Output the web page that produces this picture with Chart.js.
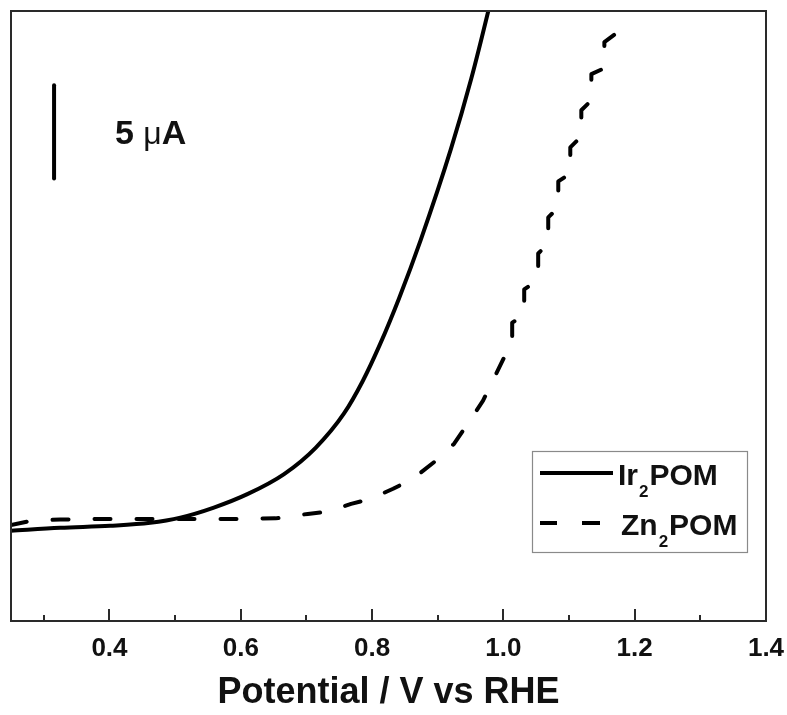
<!DOCTYPE html>
<html>
<head>
<meta charset="utf-8">
<script src="https://cdn.jsdelivr.net/npm/chart.js@4.4.1/dist/chart.umd.min.js"></script>
<style>
  html, body { margin: 0; padding: 0; background: #ffffff; }
  canvas { display: block; }
</style>
</head>
<body>
<canvas id="c" width="787" height="715"></canvas>
<script>
// ---- data (potential in V vs RHE, current in µA, arbitrary offset) ----
const irPOM_x = [0.25, 0.325, 0.401, 0.462, 0.508, 0.559, 0.610, 0.666, 0.714, 0.757, 0.786, 0.812, 0.841, 0.874, 0.920, 0.951, 0.977, 0.992];
const irPOM_y = [4.84, 5.00, 5.11, 5.27, 5.55, 6.09, 6.81, 7.89, 9.30, 11.13, 12.90, 14.85, 17.32, 20.45, 25.33, 29.11, 32.75, 35.00];

const znPOM_x = [0.250, 0.280, 0.325, 0.400, 0.500, 0.600, 0.653, 0.702, 0.732, 0.768, 0.798, 0.832, 0.862, 0.897, 0.925, 0.951, 0.969, 0.986, 1.001,
                 1.0134, 1.0134, 1.0317, 1.0317, 1.0530, 1.0530, 1.0683, 1.0683, 1.0836, 1.0836, 1.1019, 1.1019,
                 1.1187, 1.1187, 1.1340, 1.1340, 1.1538, 1.1538, 1.1721, 1.1721, 1.1905, 1.1905];
const znPOM_y = [5.15, 5.38, 5.45, 5.48, 5.48, 5.48, 5.51, 5.75, 5.86, 6.29, 6.56, 7.10, 7.63, 8.60, 9.52, 10.86, 11.83, 13.06, 14.14,
                 14.62, 16.02, 16.40, 17.80, 18.33, 19.73, 20.27, 21.67, 22.20, 23.60, 24.03, 25.43,
                 26.02, 27.42, 27.96, 29.36, 29.68, 31.08, 31.56, 32.96, 33.44, 34.84];

const seriesNames = ['Ir\u2082POM', 'Zn\u2082POM'];
const majorTicks = [0.4, 0.6, 0.8, 1.0, 1.2, 1.4];
const tickLabels = ['0.4', '0.6', '0.8', '1.0', '1.2', '1.4'];
const minorTicks = [0.3, 0.5, 0.7, 0.9, 1.1, 1.3];
const xTitle = 'Potential / V vs RHE';
const scaleBarLabel = ['5 ', '\u03BC', 'A'];
const scaleBarValue = 5;      // µA represented by scale bar
const scaleBarX = 0.3156;     // potential at which the bar is placed
const scaleBarTop = 28.76;    // current at top of bar

const FONT = '"Liberation Sans", Arial, Helvetica, sans-serif';

function toPoints(xs, ys) { return xs.map((x, i) => ({ x: x, y: ys[i] })); }

const decor = {
  id: 'decor',
  afterDatasetsDraw(chart) {
    const ctx = chart.ctx;
    const a = chart.chartArea;
    const xs = chart.scales.x, ys = chart.scales.y;
    ctx.save();
    // frame
    ctx.strokeStyle = '#2a2a2a';
    ctx.lineWidth = 2;
    ctx.strokeRect(a.left, a.top, a.right - a.left, a.bottom - a.top);
    // inward ticks on bottom axis
    ctx.beginPath();
    majorTicks.forEach(v => {
      const px = Math.round(xs.getPixelForValue(v));
      ctx.moveTo(px, a.bottom); ctx.lineTo(px, a.bottom - 12);
    });
    minorTicks.forEach(v => {
      const px = Math.round(xs.getPixelForValue(v));
      ctx.moveTo(px, a.bottom); ctx.lineTo(px, a.bottom - 6);
    });
    ctx.stroke();

    // scale bar
    const bx = xs.getPixelForValue(scaleBarX);
    ctx.strokeStyle = '#000';
    ctx.lineWidth = 4;
    ctx.lineCap = 'round';
    ctx.beginPath();
    ctx.moveTo(bx, ys.getPixelForValue(scaleBarTop));
    ctx.lineTo(bx, ys.getPixelForValue(scaleBarTop - scaleBarValue));
    ctx.stroke();
    ctx.fillStyle = '#111';
    ctx.textBaseline = 'alphabetic';
    let tx = 115;
    ctx.font = 'bold 34px ' + FONT;
    ctx.fillText(scaleBarLabel[0], tx, 144);
    tx += ctx.measureText(scaleBarLabel[0]).width;
    ctx.font = '32px ' + FONT;
    ctx.fillText(scaleBarLabel[1], tx, 144);
    tx += ctx.measureText(scaleBarLabel[1]).width;
    ctx.font = 'bold 34px ' + FONT;
    ctx.fillText(scaleBarLabel[2], tx, 144);

    // legend
    ctx.lineCap = 'butt';
    ctx.strokeStyle = '#8a8a8a';
    ctx.lineWidth = 1.2;
    ctx.strokeRect(532.5, 451.5, 215, 101);
    ctx.strokeStyle = '#000';
    ctx.lineWidth = 4;
    ctx.beginPath(); ctx.moveTo(540, 473); ctx.lineTo(613, 473); ctx.stroke();
    ctx.beginPath();
    ctx.moveTo(540, 523); ctx.lineTo(557, 523);
    ctx.moveTo(582, 523); ctx.lineTo(600, 523);
    ctx.stroke();

    function subText(parts, x, base) {
      ctx.font = 'bold 30px ' + FONT;
      ctx.fillText(parts[0], x, base);
      x += ctx.measureText(parts[0]).width + 1;
      ctx.font = 'bold 17px ' + FONT;
      ctx.fillText(parts[1], x, base + 12);
      x += ctx.measureText(parts[1]).width + 1;
      ctx.font = 'bold 30px ' + FONT;
      ctx.fillText(parts[2], x, base);
    }
    ctx.fillStyle = '#111';
    subText(['Ir', '2', 'POM'], 618, 485);
    subText(['Zn', '2', 'POM'], 621, 535);
    ctx.restore();
  }
};

new Chart(document.getElementById('c'), {
  type: 'line',
  data: {
    datasets: [
      {
        label: seriesNames[0],
        data: toPoints(irPOM_x, irPOM_y),
        borderColor: '#000',
        borderWidth: 4,
        pointRadius: 0,
        fill: false,
        cubicInterpolationMode: 'monotone',
        borderJoinStyle: 'round'
      },
      {
        label: seriesNames[1],
        data: toPoints(znPOM_x, znPOM_y),
        borderColor: '#000',
        borderWidth: 4,
        pointRadius: 0,
        fill: false,
        tension: 0,
        borderDash: [16, 26],
        borderCapStyle: 'round',
        borderJoinStyle: 'round'
      }
    ]
  },
  options: {
    responsive: false,
    animation: false,
    devicePixelRatio: 1,
    layout: { padding: { left: 11, right: 21, top: 11, bottom: 0.6 } },
    plugins: { legend: { display: false }, tooltip: { enabled: false } },
    scales: {
      x: {
        type: 'linear',
        min: 0.25,
        max: 1.4,
        afterBuildTicks(scale) {
          scale.ticks = majorTicks.concat(minorTicks).sort((a, b) => a - b).map(v => ({ value: v }));
        },
        afterFit(scale) {
          scale.paddingRight = 0;
          scale.paddingLeft = 0;
        },
        grid: { display: false, drawTicks: false },
        border: { display: false },
        ticks: {
          padding: 12,
          maxRotation: 0,
          autoSkip: false,
          color: '#111',
          font: { family: FONT, size: 26, weight: 'bold' },
          callback(value) {
            const i = majorTicks.findIndex(t => Math.abs(t - value) < 1e-6);
            return i >= 0 ? tickLabels[i] : '';
          }
        },
        title: {
          display: true,
          text: xTitle,
          color: '#111',
          font: { family: FONT, size: 36, weight: 'bold' },
          padding: { top: -5, bottom: 0 }
        }
      },
      y: {
        type: 'linear',
        display: false,
        min: 0,
        max: 32.75
      }
    }
  },
  plugins: [decor]
});
</script>
</body>
</html>
